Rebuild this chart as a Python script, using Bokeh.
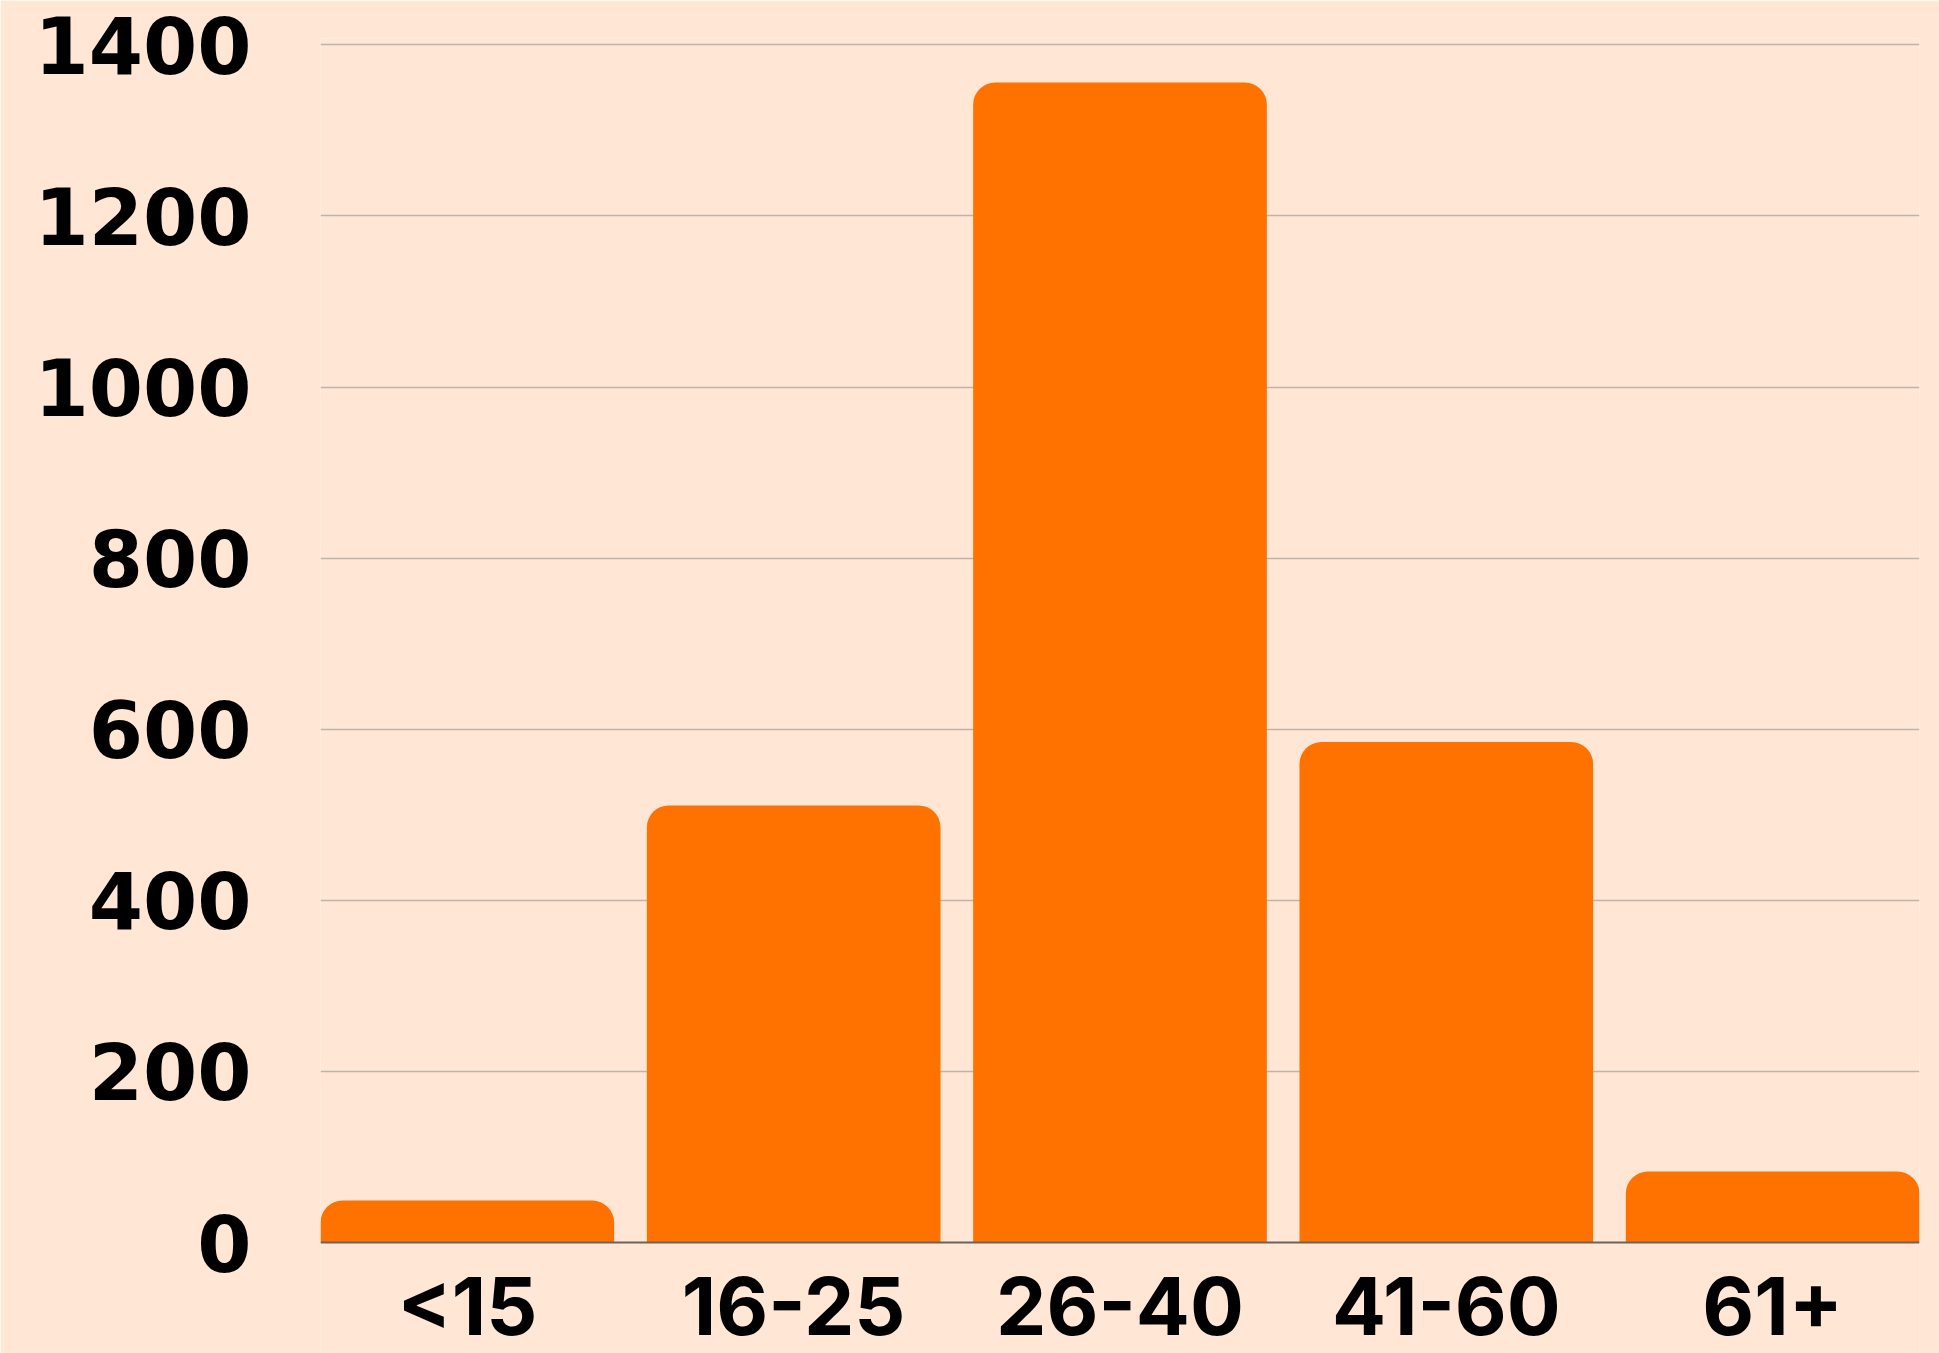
from bokeh.plotting import figure
from bokeh.models import Range1d, FixedTicker, ColumnDataSource
from bokeh.embed import file_html
from bokeh.resources import INLINE

# ---- data ----
age_groups = ["<15", "16-25", "26-40", "41-60", "61+"]
counts = [49, 511, 1356, 585, 83]
y_ticks = [0, 200, 400, 600, 800, 1000, 1200, 1400]

positions = list(range(len(age_groups)))
source = ColumnDataSource(data=dict(x=positions, top=counts, label=age_groups))

BG = "#FFE6D5"
BAR = "#FF7200"

p = figure(width=1939, height=1353, output_backend="svg", toolbar_location=None,
           x_range=Range1d(-0.45, 4.45), y_range=Range1d(-129.7, 1407.4),
           min_border_left=320, min_border_right=20, min_border_top=38,
           min_border_bottom=0)
p.background_fill_color = BG
p.border_fill_color = BG
p.outline_line_color = None

p.vbar(x="x", top="top", bottom=0, width=0.9, source=source,
       fill_color=BAR, line_color=None, border_radius=(22, 22, 0, 0))

# x axis drawn at y = 0
xa = p.xaxis[0]
xa.fixed_location = 0
xa.ticker = FixedTicker(ticks=positions)
xa.major_label_overrides = {i: lab for i, lab in enumerate(age_groups)}
xa.axis_line_color = "#6B6360"
xa.axis_line_width = 2
xa.major_tick_line_color = None
xa.minor_tick_line_color = None
xa.major_label_standoff = 8
xa.major_label_text_font = "Inter"
xa.major_label_text_font_style = "bold"
xa.major_label_text_font_size = "80px"
xa.major_label_text_color = "#000000"

ya = p.yaxis[0]
ya.ticker = FixedTicker(ticks=y_ticks)
ya.axis_line_color = None
ya.major_tick_line_color = None
ya.minor_tick_line_color = None
ya.major_label_standoff = 63
ya.major_label_text_font = "DejaVu Sans"
ya.major_label_text_font_style = "bold"
ya.major_label_text_font_size = "78px"
ya.major_label_text_color = "#000000"

p.xgrid.visible = False
p.ygrid.ticker = FixedTicker(ticks=y_ticks[1:])
p.ygrid.grid_line_color = "#C0B4A8"
p.ygrid.grid_line_width = 1.5

open("out.html", "w").write(file_html(p, INLINE))
